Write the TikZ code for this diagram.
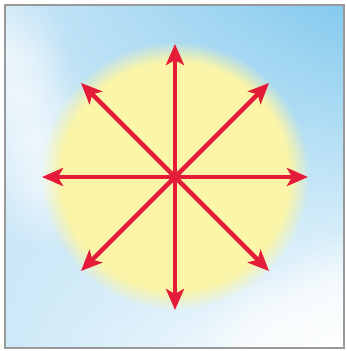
\documentclass[tikz,border=0pt]{standalone}
\usetikzlibrary{arrows.meta,fadings,shadings,calc}
\definecolor{rayred}{RGB}{228,28,58}
\definecolor{sunyellow}{RGB}{250,245,168}
\definecolor{skyblue}{RGB}{132,202,238}
\definecolor{skypale}{RGB}{200,230,247}
\tikzfading[name=glowfade,inner color=transparent!0,outer color=transparent!100]
\begin{document}
\begin{tikzpicture}[x=1pt,y=1pt,
		glow/.style={white,path fading=glowfade,opacity=0.6},
		ray/.style={rayred,line width=4.5pt,-{Stealth[length=21pt,width=18pt,inset=5pt]}}]
				\useasboundingbox (0,0) rectangle (346,351);
				% sky
				\begin{scope}
				\clip (5,3) rectangle (344,346);
				\shade[upper left=skypale,upper right=skyblue,lower left=skypale!90!white,lower right=white] (5,3) rectangle (344,346);
				\foreach \p in {(5,300),(20,255),(35,210),(50,165)}
					\fill[glow] \p circle (65);
				\foreach \p in {(260,10),(300,30),(340,55)}
					\fill[glow] \p circle (65);
				\end{scope}
				\draw[gray!80,line width=1.5pt] (5,3) rectangle (344,346);
				% sun
				\coordinate (c) at (175,174);
				\fill[sunyellow,path fading=circle with fuzzy edge 15 percent] (175,175) circle (134);
				\foreach \a in {0,45,...,315}{
					\coordinate (tip\a) at ($(c)+(\a:133)$);
					\draw[ray] (c) -- (tip\a);}
				\end{tikzpicture}
\end{document}
